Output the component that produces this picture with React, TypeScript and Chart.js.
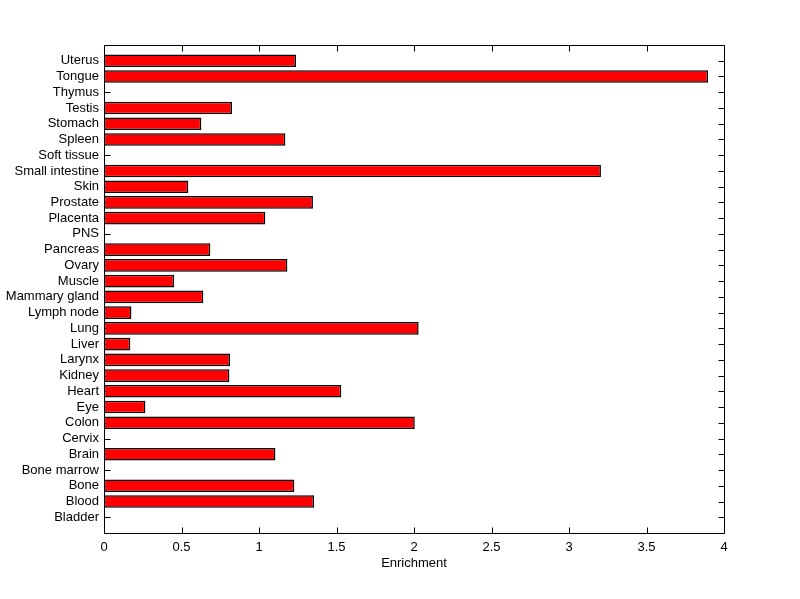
import React, { useEffect, useRef } from "react";
import { Chart, registerables } from "chart.js";

Chart.register(...registerables);

// Categories listed bottom (position 1) to top (position 30)
const categories = [
  "Bladder", "Blood", "Bone", "Bone marrow", "Brain", "Cervix", "Colon", "Eye",
  "Heart", "Kidney", "Larynx", "Liver", "Lung", "Lymph node", "Mammary gland",
  "Muscle", "Ovary", "Pancreas", "PNS", "Placenta", "Prostate", "Skin",
  "Small intestine", "Soft tissue", "Spleen", "Stomach", "Testis", "Thymus",
  "Tongue", "Uterus",
];
const enrichment = [
  0, 1.355, 1.228, 0, 1.106, 0, 2.005, 0.267,
  1.531, 0.809, 0.813, 0.17, 2.03, 0.177, 0.641,
  0.452, 1.183, 0.686, 0, 1.041, 1.348, 0.544,
  3.206, 0, 1.17, 0.628, 0.826, 0,
  3.897, 1.239,
];
const xMin = 0;
const xMax = 4;
const xStep = 0.5;
const xTitle = "Enrichment";

const FONT = "'Liberation Sans', Arial, Helvetica, sans-serif";

function edges(chart: any) {
  const { chartArea } = chart;
  return {
    L: Math.round(chartArea.left) + 0.5,
    R: Math.round(chartArea.right) + 0.5,
    T: Math.round(chartArea.top) + 0.5,
    B: Math.round(chartArea.bottom) + 0.5,
  };
}

const framePlugin = {
  id: "frameTicks",
  beforeDatasetsDraw(chart: any) {
    const { ctx } = chart;
    const xs = chart.scales.x;
    const ys = chart.scales.y;
    const { L, R, T, B } = edges(chart);
    const tl = 6;
    ctx.save();
    ctx.strokeStyle = "#000";
    ctx.lineWidth = 1;
    ctx.beginPath();
    for (let v = xMin; v <= xMax + 1e-9; v += xStep) {
      const px = Math.round(xs.getPixelForValue(v)) + 0.5;
      ctx.moveTo(px, B);
      ctx.lineTo(px, B - tl);
      ctx.moveTo(px, T);
      ctx.lineTo(px, T + tl);
    }
    for (let i = 1; i <= categories.length; i++) {
      const py = Math.round(ys.getPixelForValue(i)) + 0.5;
      ctx.moveTo(L, py);
      ctx.lineTo(L + tl, py);
      ctx.moveTo(R, py);
      ctx.lineTo(R - tl, py);
    }
    ctx.stroke();
    ctx.restore();
  },
  afterDraw(chart: any) {
    const { ctx } = chart;
    const { L, R, T, B } = edges(chart);
    ctx.save();
    ctx.strokeStyle = "#000";
    ctx.lineWidth = 1;
    ctx.beginPath();
    ctx.rect(L, T, R - L, B - T);
    ctx.stroke();
    ctx.restore();
  },
};

export default function App() {
  const ref = useRef<HTMLCanvasElement | null>(null);
  useEffect(() => {
    if (!ref.current) return;
    const chart = new Chart(ref.current, {
      type: "bar",
      data: {
        datasets: [
          {
            data: categories.map((_, i) => ({ x: enrichment[i], y: i + 1 })),
            backgroundColor: "#ff0000",
            borderColor: "#000000",
            borderWidth: 1.5,
            borderSkipped: false,
            categoryPercentage: 1,
            barPercentage: 0.8,
          },
        ],
      },
      options: {
        indexAxis: "y",
        animation: false,
        responsive: false,
        maintainAspectRatio: false,
        devicePixelRatio: 1,
        layout: { padding: { top: 45, right: 76, bottom: 0, left: 0 } },
        plugins: {
          legend: { display: false },
          tooltip: { enabled: false },
          title: { display: false },
        },
        scales: {
          x: {
            type: "linear",
            position: "bottom",
            min: xMin,
            max: xMax,
            grid: { display: false, drawTicks: false },
            border: { display: false },
            ticks: {
              stepSize: xStep,
              color: "#000",
              padding: 7,
              font: { family: FONT, size: 13 },
              maxRotation: 0,
              callback: (v: any) => String(Number(v)),
            },
            title: {
              display: true,
              text: xTitle,
              color: "#000",
              font: { family: FONT, size: 13 },
              padding: { top: 0, bottom: 28 },
            },
            afterFit: (s: any) => {
              s.height = 66;
            },
          },
          y: {
            type: "linear",
            position: "left",
            offset: false,
            min: 0,
            max: categories.length + 1,
            grid: { display: false, drawTicks: false, offset: false },
            border: { display: false },
            ticks: {
              stepSize: 1,
              autoSkip: false,
              color: "#000",
              padding: 5,
              font: { family: FONT, size: 13 },
              callback: (v: any) => {
                const n = Math.round(Number(v));
                return n >= 1 && n <= categories.length ? categories[n - 1] : "";
              },
            },
            afterFit: (s: any) => {
              s.width = 104;
            },
          },
        },
      },
      plugins: [framePlugin],
    } as any);
    return () => chart.destroy();
  }, []);
  return (
    <div style={{ position: "fixed", left: 0, top: 0, width: 800, height: 599, background: "#fff" }}>
      <canvas ref={ref} width={800} height={599} style={{ width: 800, height: 599 }} />
    </div>
  );
}
